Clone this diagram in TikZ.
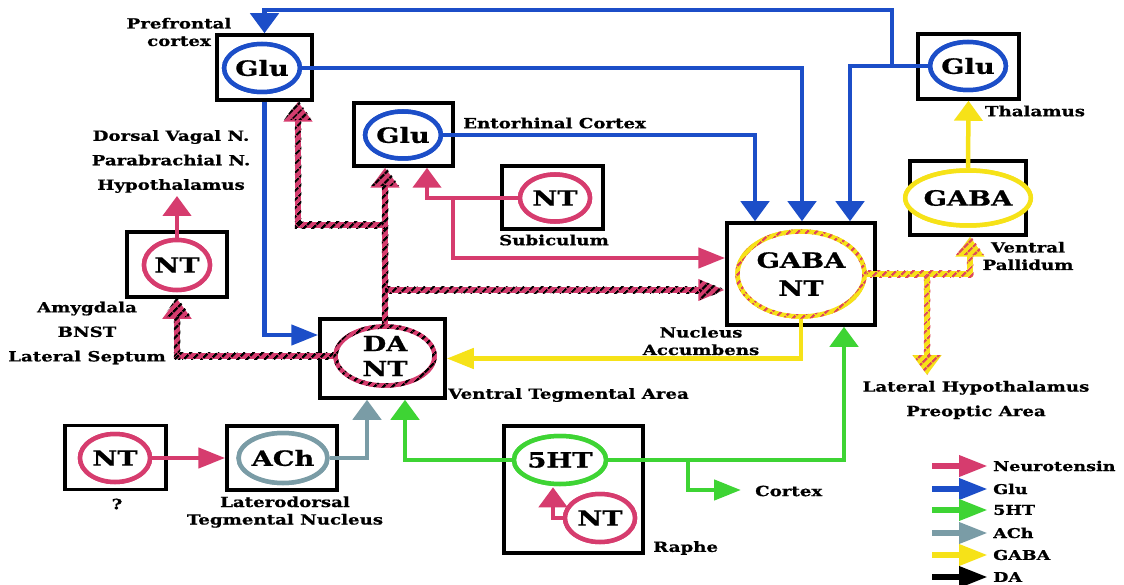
\documentclass[tikz,border=0pt]{standalone}
\usepackage{fontspec}
\setmainfont{DejaVu Serif}[FakeStretch=1.3,FakeBold=0.8]
\usetikzlibrary{arrows.meta,shapes.geometric,patterns.meta}
\definecolor{pinkc}{RGB}{214,60,110}
\definecolor{bluec}{RGB}{28,78,200}
\definecolor{greenc}{RGB}{62,212,52}
\definecolor{greyc}{RGB}{122,156,166}
\definecolor{yellowc}{RGB}{246,226,24}
\definecolor{redc}{RGB}{222,72,92}
\begin{document}
\begin{tikzpicture}[x=1pt,y=-1pt,
  box/.style={draw=black,line width=3.5pt,inner sep=0pt},
  ell/.style={ellipse,draw,line width=4.5pt,fill=white,inner sep=0pt,align=center,
    font=\fontsize{21}{25}\selectfont\bfseries},
  lbl/.style={font=\fontsize{14}{24.5}\selectfont\bfseries,align=center,inner sep=0pt},
  lblt/.style={font=\fontsize{14}{17.5}\selectfont\bfseries,align=center,inner sep=0pt},
  lgt/.style={font=\fontsize{13.5}{14}\selectfont\bfseries,inner sep=0pt,anchor=west},
  tipV/.style={-{Triangle[length=20pt,width=28pt]}},
  tipH/.style={-{Triangle[length=27pt,width=20pt]}},
  bl/.style={draw=bluec,line width=4.5pt},
  pk/.style={draw=pinkc,line width=4.5pt},
  yl/.style={draw=yellowc,line width=4.5pt},
  gr/.style={draw=greenc,line width=4.5pt},
  gy/.style={draw=greyc,line width=4.5pt},
  dal/.style={draw=pinkc,line width=6.5pt},
  ryl/.style={draw=yellowc,line width=6.5pt},
  lg/.style={line width=6.5pt,-{Triangle[length=29pt,width=20pt]}},
  dapat/.style={pattern={Lines[angle=45,distance=6.5pt,line width=2.6pt]},pattern color=black},
  rypat/.style={pattern={Lines[angle=45,distance=6.5pt,line width=2.6pt]},pattern color=redc}
]
\fill[white] (0,0) rectangle (1124,585);
\useasboundingbox (0,0) rectangle (1124,585);

% boxes
\node[box,minimum width=95pt,minimum height=65pt] (pfcbox) at (264.5,67.5) {};
\node[box,minimum width=99pt,minimum height=63pt] (entbox) at (403.5,134.5) {};
\node[box,minimum width=101pt,minimum height=63pt] (subbox) at (552.5,197.5) {};
\node[box,minimum width=100pt,minimum height=65pt] (amybox) at (177,264.5) {};
\node[box,minimum width=125pt,minimum height=79pt] (vtabox) at (382.5,358.5) {};
\node[box,minimum width=148pt,minimum height=102pt] (nacbox) at (801,274) {};
\node[box,minimum width=101pt,minimum height=65pt] (thalbox) at (968.5,66.5) {};
\node[box,minimum width=116pt,minimum height=74pt] (vpbox) at (968,198) {};
\node[box,minimum width=101pt,minimum height=64pt] (qbox) at (115.5,457.5) {};
\node[box,minimum width=110pt,minimum height=64pt] (achbox) at (282,458) {};
\node[box,minimum width=139pt,minimum height=127pt] (raphebox) at (573.5,489.5) {};

% helper coordinates
\coordinate (x850) at (850,0);
\coordinate (x802) at (802,0);
\coordinate (x755) at (755,0);
\coordinate (x427) at (427,0);
\coordinate (x298) at (298,0);
\coordinate (x970) at (970,0);
\coordinate (x844) at (844,0);
\coordinate (x405) at (405,0);
\coordinate (x367) at (367,0);
\coordinate (y335) at (0,335);
\coordinate (y258) at (0,258);
\coordinate (j1) at (892,66);
\coordinate (j1b) at (892,10);
\coordinate (j2) at (453,198);
\coordinate (j3) at (385,290);
\coordinate (j4) at (385,225);
\coordinate (j5) at (927,274);
\coordinate (lhout) at (927,375);
\coordinate (j6) at (688,460);
\coordinate (ctxout) at (741,490);
\coordinate (amyout) at (177,196);

% ellipse nodes (first pass, for anchors)
\node[ell,draw=bluec,minimum width=70pt,minimum height=48pt] (pfc) at (262,68) {Glu};
\node[ell,draw=bluec,minimum width=70pt,minimum height=47pt] (ent) at (403,135) {Glu};
\node[ell,draw=pinkc,minimum width=70pt,minimum height=47pt] (sub) at (555,198) {NT};
\node[ell,draw=pinkc,minimum width=66pt,minimum height=50pt] (amy) at (177,265) {NT};
\node[ell,draw=pinkc,minimum width=99pt,minimum height=59pt] (vta) at (385,356) {DA\\NT};
\node[ell,draw=yellowc,minimum width=127pt,minimum height=85pt,font=\fontsize{21}{28}\selectfont\bfseries] (nac) at (801,274) {GABA\\NT};
\node[ell,draw=bluec,minimum width=68pt,minimum height=48pt] (thal) at (968,66) {Glu};
\node[ell,draw=yellowc,minimum width=99pt,minimum height=55pt] (vp) at (968,198) {GABA};
\node[ell,draw=pinkc,minimum width=70pt,minimum height=48pt] (q) at (115,458) {NT};
\node[ell,draw=greyc,minimum width=80pt,minimum height=50pt] (ach) at (283,458) {ACh};
\node[ell,draw=greenc,minimum width=82pt,minimum height=48pt] (hts) at (560,460) {5HT};
\node[ell,draw=pinkc,minimum width=70pt,minimum height=48pt] (nt2) at (600,518) {NT};

% blue connectors
\draw[bl,tipV] (thal.west) -| (nacbox.north -| x850);
\draw[bl,tipV] (j1) -- (j1b) -| (pfcbox.north);
\draw[bl,tipV] (pfc.east) -| (nacbox.north -| x802);
\draw[bl,tipV] (ent.east) -| (nacbox.north -| x755);
\draw[bl,tipH] (pfcbox.south) |- (vtabox.west |- y335);

% pink connectors
\draw[pk,tipV] (sub.west) -| (entbox.south -| x427);
\draw[pk,tipH] (j2) |- (nacbox.west |- y258);
\draw[pk,tipV] (amy.north) -- (amyout);
\draw[pk,tipH] (q.east) -- (achbox.west);
\draw[pk,tipV] (nt2.west) -| ([xshift=-7pt,yshift=-1pt]hts.south);

% DA striped connectors (pink base, black diagonal stripes)
\draw[dal,tipV] (vta.north) -- (entbox.south -| vta.north);
\draw[dal,tipH] (j3) -- (nacbox.west |- j3);
\draw[dal,tipV] (j4) -| (pfcbox.south -| x298);
\draw[dal,tipV] (vta.west) -| (amybox.south);
\fill[dapat] (381.75,186) rectangle (388.25,326);
\fill[dapat] (385,286.75) rectangle (700,293.25);
\fill[dapat] (294.75,221.75) rectangle (385,228.25);
\fill[dapat] (294.75,120) rectangle (301.25,228.25);
\fill[dapat] (173.75,352.75) rectangle (336,359.25);
\fill[dapat] (173.75,317) rectangle (180.25,359.25);
\fill[dapat] (385,166) -- (371,186) -- (399,186) -- cycle;
\fill[dapat] (727,290) -- (700,280) -- (700,300) -- cycle;
\fill[dapat] (298,100) -- (284,120) -- (312,120) -- cycle;
\fill[dapat] (177,297) -- (163,317) -- (191,317) -- cycle;

% GABA/NT striped connectors (yellow base, red stripes)
\draw[ryl,tipV] (nac.east) -| (vpbox.south -| x970);
\draw[ryl,tipV] (j5) -- (lhout);
\fill[rypat] (866,270.75) rectangle (973.25,277.25);
\fill[rypat] (966.75,255) rectangle (973.25,277.25);
\fill[rypat] (923.75,274) rectangle (930.25,355);
\fill[rypat] (970,235) -- (956,255) -- (984,255) -- cycle;
\fill[rypat] (927,375) -- (913,355) -- (941,355) -- cycle;

% yellow
\draw[yl,tipH] (nac.south) |- (vtabox.east);
\draw[yl,tipV] (vp.north) -- (thalbox.south);

% green
\draw[gr,tipV] (hts.east) -| (nacbox.south -| x844);
\draw[gr,tipV] (hts.west) -| (vtabox.south -| x405);
\draw[gr,tipH] (j6) |- (ctxout);

% grey
\draw[gy,tipV] (ach.east) -| (vtabox.south -| x367);

% ellipses again, on top of connectors
\node[ell,draw=bluec,minimum width=70pt,minimum height=48pt] (pfcT) at (262,68) {Glu};
\node[ell,draw=bluec,minimum width=70pt,minimum height=47pt] (entT) at (403,135) {Glu};
\node[ell,draw=pinkc,minimum width=70pt,minimum height=47pt] (subT) at (555,198) {NT};
\node[ell,draw=pinkc,minimum width=66pt,minimum height=50pt] (amyT) at (177,265) {NT};
\node[ell,draw=pinkc,minimum width=99pt,minimum height=59pt] (vtaT) at (385,356) {DA\\NT};
\node[ell,draw=yellowc,minimum width=127pt,minimum height=85pt,font=\fontsize{21}{28}\selectfont\bfseries] (nacT) at (801,274) {GABA\\NT};
\node[ell,draw=bluec,minimum width=68pt,minimum height=48pt] (thalT) at (968,66) {Glu};
\node[ell,draw=yellowc,minimum width=99pt,minimum height=55pt] (vpT) at (968,198) {GABA};
\node[ell,draw=pinkc,minimum width=70pt,minimum height=48pt] (qT) at (115,458) {NT};
\node[ell,draw=greyc,minimum width=80pt,minimum height=50pt] (achT) at (283,458) {ACh};
\node[ell,draw=greenc,minimum width=82pt,minimum height=48pt] (htsT) at (560,460) {5HT};
\node[ell,draw=pinkc,minimum width=70pt,minimum height=48pt] (nt2T) at (600,518) {NT};

% diagonal stripes on the two mixed ellipses
\fill[dapat,even odd rule] (385,356) ellipse [x radius=51.75pt,y radius=31.75pt]
  (385,356) ellipse [x radius=47.25pt,y radius=27.25pt];
\fill[rypat,even odd rule] (801,274) ellipse [x radius=65.75pt,y radius=44.75pt]
  (801,274) ellipse [x radius=61.25pt,y radius=40.25pt];

% labels
\node[lblt] (l1) at (179,32) {Prefrontal\\cortex};
\node[lbl] (l2) at (171,161.5) {Dorsal Vagal N.\\Parabrachial N.\\Hypothalamus};
\node[lbl] (l3) at (87,333) {Amygdala\\BNST\\Lateral Septum};
\node[lbl,anchor=west] (l4) at (463,123) {Entorhinal Cortex};
\node[lbl] (l5) at (554,240) {Subiculum};
\node[lbl] (l6) at (1035,111) {Thalamus};
\node[lblt] (l7) at (1028,256) {Ventral\\Pallidum};
\node[lblt] (l8) at (701,341) {Nucleus\\Accumbens};
\node[lbl,anchor=west] (l9) at (448,395) {Ventral Tegmental Area};
\node[lbl] (l10) at (976,400) {Lateral Hypothalamus\\Preoptic Area};
\node[lbl] (l11) at (117,504) {?};
\node[lblt] (l12) at (285,512) {Laterodorsal\\Tegmental Nucleus};
\node[lbl,anchor=west] (l13) at (755,491) {Cortex};
\node[lbl,anchor=west] (l14) at (653,548) {Raphe};

% legend
\foreach \i/\yy/\cc/\tt in {1/466/pinkc/Neurotensin,2/489/bluec/Glu,3/510/greenc/5HT,4/533/greyc/ACh,5/555/yellowc/GABA,6/577/black/DA}{
  \node[lgt] (lg\i) at (993,\yy) {\tt};
  \coordinate (ls\i) at (932,\yy);
  \draw[lg,draw=\cc,fill=\cc] (ls\i) -- ([xshift=-5pt]lg\i.west);
}
\end{tikzpicture}
\end{document}
